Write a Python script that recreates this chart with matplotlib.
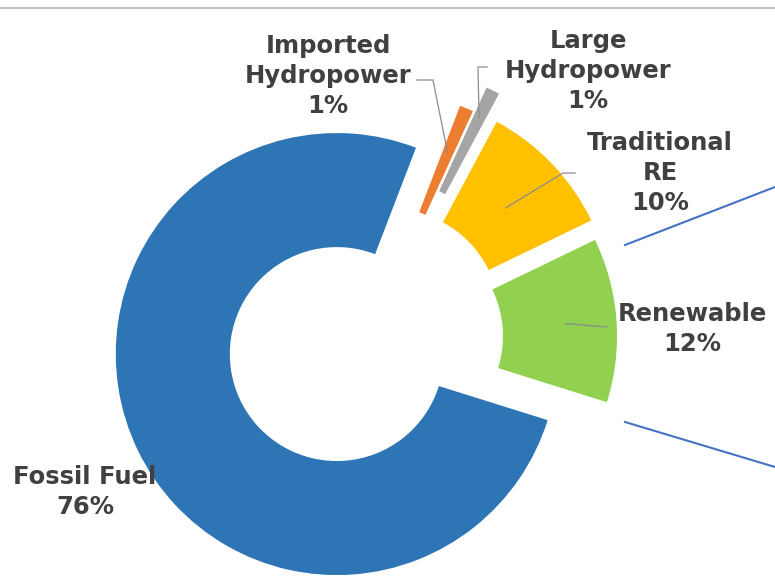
import matplotlib.pyplot as plt
import numpy as np

# generation mix
sources = ["Fossil Fuel", "Renewable", "Traditional\nRE", "Large\nHydropower", "Imported\nHydropower"]
shares = [76, 12, 10, 1, 1]
colors = ["#2E75B6", "#92D050", "#FFC000", "#A5A5A5", "#ED7D31"]
explode = [0.167, 0.118, 0.14, 0.25, 0.127]

W, H = 775, 576
R_PX = 221.0
OX, OY = 370, 338


def px(x, y):
    # pixel position -> data coords (pie centre at origin, radius 1)
    return (x - OX) / R_PX, (OY - y) / R_PX


fig = plt.figure(figsize=(W / 100, H / 100), dpi=100)
ax = fig.add_axes([0, 0, 1, 1])

wedges, _ = ax.pie(shares, colors=colors, explode=explode, startangle=69,
                   counterclock=True, radius=1,
                   wedgeprops=dict(width=0.516, linewidth=0))

ax.set_xlim(px(0, 0)[0], px(W, 0)[0])
ax.set_ylim(px(0, H)[1], px(0, 0)[1])
ax.set_aspect("equal")
ax.axis("off")


def anchor(i, frac):
    w = wedges[i]
    mid = np.deg2rad((w.theta1 + w.theta2) / 2)
    cx, cy = w.center
    return cx + frac * np.cos(mid), cy + frac * np.sin(mid)


txt = dict(ha="center", va="center", fontsize=17.5, fontweight="bold",
           color="#404040", linespacing=1.3)
labels = [f"{s}\n{v}%" for s, v in zip(sources, shares)]
ax.text(*px(85, 492), labels[0], **txt)
ax.text(*px(692, 329), labels[1], **txt)
ax.text(*px(660, 173), labels[2], **txt)
ax.text(*px(588, 71), labels[3], **txt)
ax.text(*px(328, 76), labels[4], **txt)

# leader lines
lead = dict(color="#8c8c8c", lw=0.9)
for i, elbow, frac in [(4, [(417, 80), (433, 80)], 0.78),
                       (3, [(487, 67), (478, 67)], 0.86),
                       (2, [(575, 173), (563, 173)], 0.71),
                       (1, [(607, 327)], 0.77)]:
    pts = [px(*p) for p in elbow] + [anchor(i, frac)]
    xs, ys = zip(*pts)
    ax.plot(xs, ys, **lead)

# callout to the breakdown on the right
for a, b in [((625, 245), (775, 187)), ((625, 422), (775, 467))]:
    (x0, y0), (x1, y1) = px(*a), px(*b)
    ax.plot([x0, x1], [y0, y1], color="#4472C4", lw=1.5)

fig.add_artist(plt.Line2D([0, 1], [1 - 8 / H, 1 - 8 / H], color="#BFBFBF", lw=1.5))

fig.savefig("out.png", dpi=100)
